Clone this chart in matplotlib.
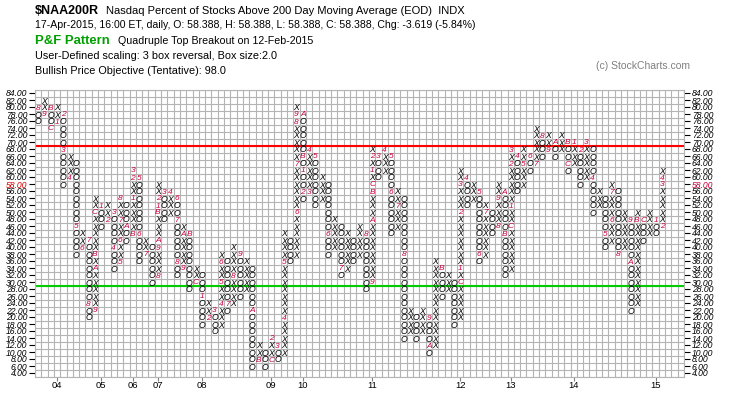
import matplotlib
matplotlib.use("Agg")
import matplotlib.pyplot as plt
from matplotlib.ticker import FixedLocator

plt.rcParams['font.family'] = ['Liberation Sans', 'DejaVu Sans']

# point & figure columns, left to right (box size 2, 3 box reversal)
col_kind = "OX" * 50
col_low = [76, 78, 74, 76, 58, 60, 38, 40, 20, 22,
           46, 48, 34, 36, 42, 44, 36, 38, 30, 32,
           48, 50, 32, 34, 28, 30, 18, 20, 16, 18,
           22, 24, 26, 28, 6, 8, 6, 8, 8, 10,
           36, 38, 54, 56, 52, 54, 38, 40, 32, 34,
           36, 38, 28, 30, 60, 62, 44, 46, 14, 16,
           14, 16, 10, 12, 26, 28, 18, 20, 52, 54,
           36, 38, 44, 46, 32, 34, 56, 58, 62, 64,
           66, 68, 66, 68, 62, 64, 58, 60, 50, 52,
           40, 42, 38, 40, 22, 24, 42, 44, 44, 46]
col_high = [80, 82, 80, 80, 78, 66, 64, 44, 42, 54,
            52, 52, 50, 54, 52, 62, 60, 42, 40, 58,
            56, 56, 54, 46, 44, 34, 32, 24, 22, 38,
            36, 40, 38, 36, 34, 12, 10, 14, 12, 44,
            42, 80, 78, 68, 66, 60, 58, 48, 46, 44,
            42, 46, 44, 68, 66, 68, 66, 56, 54, 22,
            20, 22, 20, 36, 34, 32, 30, 62, 60, 58,
            56, 52, 50, 58, 56, 68, 66, 68, 66, 74,
            72, 72, 70, 72, 70, 70, 68, 70, 68, 56,
            54, 58, 56, 50, 48, 50, 48, 50, 48, 62]

# month markers: column -> {box value: month code}
month_marks = {
    1: {80: '8'}, 2: {78: '9'}, 3: {80: 'B', 74: 'C'}, 4: {76: '1'},
    5: {78: '2', 68: '3'}, 6: {60: '4'}, 7: {46: '5'}, 8: {40: '6'},
    9: {42: '7', 24: '8'}, 10: {22: '9', 34: 'A', 38: 'B', 50: 'C'},
    11: {52: '1'}, 12: {48: '2'}, 13: {50: '3', 40: '4'},
    14: {36: '5', 42: '6', 48: '7', 54: '8'}, 15: {46: 'A'},
    16: {44: 'B', 54: '1', 60: '2', 62: '3'}, 17: {60: '5', 44: '6'},
    18: {38: '7'}, 20: {32: '8', 40: '9', 42: 'A', 50: 'B', 52: '1', 54: '2'},
    21: {56: '3'}, 22: {56: '4'}, 23: {54: '6', 48: '7', 36: '8'},
    24: {34: '9', 44: 'A'}, 25: {44: 'B'}, 26: {30: 'C'}, 27: {26: '1'},
    28: {20: '2'}, 29: {22: '3'}, 30: {24: '4', 30: '5', 36: '6'},
    31: {24: '7'}, 32: {32: '8'}, 33: {38: '9'}, 35: {22: 'A'},
    36: {8: 'B'}, 38: {8: 'C', 14: '2'}, 39: {12: '3'}, 40: {20: '4', 36: '5'},
    42: {50: '6', 64: '7', 76: '8', 78: '9'},
    43: {78: 'A', 66: 'B', 62: '1', 56: '2'}, 44: {56: '3', 68: '4'},
    45: {66: '5'}, 47: {44: '6'}, 49: {34: '7'}, 53: {44: '8'},
    54: {30: '9', 48: 'A', 56: 'B', 58: 'C', 62: '1', 66: '2'},
    55: {66: '3'}, 56: {68: '4'}, 57: {66: '5', 56: '6'}, 58: {52: '7'},
    59: {38: '8'}, 63: {20: '9', 12: 'A'}, 65: {34: 'B'},
    68: {30: 'C', 34: '1', 50: '2', 58: '3'}, 69: {60: '4'},
    71: {56: '5', 38: '6'}, 72: {50: '7'}, 74: {46: '8', 54: '9'},
    75: {56: 'A', 44: 'B'}, 76: {46: 'C', 52: '1', 64: '2', 68: '3'},
    77: {66: '4'}, 78: {64: '5'}, 79: {66: '6'}, 80: {64: '7'},
    81: {72: '8'}, 82: {68: '9'}, 83: {70: 'A'},
    85: {70: 'B', 64: 'C'}, 86: {70: '1'}, 87: {68: '2'}, 88: {70: '3'},
    89: {60: '4'}, 91: {44: '5'}, 92: {48: '6', 56: '7'}, 93: {38: '8'},
    95: {48: '9', 36: 'A'}, 96: {48: 'B'}, 97: {48: 'C'}, 99: {48: '1'},
    100: {46: '2', 58: '3', 60: '4'},
}

year_cols = [4, 11, 16, 20, 27, 38, 43, 54, 68, 76, 86, 99]
year_labels = ['04', '05', '06', '07', '08', '09', '10', '11', '12', '13', '14', '15']

price_ticks = list(range(4, 86, 2))
last_close = 58.388
resistance = 69
support = 29

W, H = 745, 398
fig = plt.figure(figsize=(W / 100, H / 100), dpi=100)
ax = fig.add_axes([35 / W, 1 - 376.5 / H, 649 / W, 287 / H])
ax.set_xlim(0.5, 103.5)
ax.set_ylim(3, 85)

mark_color = '#c8003c'

for i, (kind, lo, hi) in enumerate(zip(col_kind, col_low, col_high), start=1):
    marks = month_marks.get(i, {})
    for v in range(lo, hi + 1, 2):
        if v in marks:
            ax.text(i, v, marks[v], color=mark_color, fontsize=6.0, style='italic',
                    ha='center', va='center_baseline')
        else:
            ax.text(i, v, kind, color='black', fontsize=6.2, style='italic',
                    ha='center', va='center_baseline')

ax.axhline(resistance, color='#ff0000', lw=1.5)
ax.axhline(support, color='#00cc00', lw=1.5)

# grid on box edges
ax.xaxis.set_minor_locator(FixedLocator([k + 0.5 for k in range(0, 104)]))
ax.yaxis.set_minor_locator(FixedLocator(list(range(3, 86, 2))))
ax.grid(which='minor', color='#b4b4b4', lw=0.8)
ax.set_axisbelow(True)
for s in ax.spines.values():
    s.set_color('#b4b4b4')
    s.set_linewidth(0.8)

ax.set_yticks(price_ticks)
left_labels = [f"{v:.2f}" for v in price_ticks]
ax.set_yticklabels(left_labels, fontsize=6.2, style='italic')
ax.tick_params(axis='y', which='major', direction='out', length=4, width=0.8,
               pad=1.5, labelright=True, right=True, left=True)
ax.tick_params(axis='y', which='minor', length=0)
ax.tick_params(axis='x', which='minor', length=0)

ax.set_xticks(year_cols)
ax.set_xticklabels(year_labels, fontsize=6.8)
ax.tick_params(axis='x', which='major', direction='out', length=3, width=0.8,
               color='#808080', pad=0.5)

# current value in red on both sides
idx = price_ticks.index(58)
for t, tick in enumerate(ax.yaxis.get_major_ticks()):
    if t == idx:
        tick.label2.set_text(f"<<{last_close:.2f}")
        tick.label2.set_color(mark_color)
        tick.label1.set_color('#e00000')


def ftext(x, y, s, **kw):
    fig.text(x / W, 1 - y / H, s, va='center', **kw)


ftext(35, 11, "$NAA200R", fontsize=9, fontweight='bold')
ftext(106, 11, "Nasdaq Percent of Stocks Above 200 Day Moving Average (EOD)  INDX", fontsize=8)
ftext(35, 25, "17-Apr-2015, 16:00 ET, daily, O: 58.388, H: 58.388, L: 58.388, C: 58.388, Chg: -3.619 (-5.84%)",
      fontsize=7.6)
ftext(35, 41, "P&F Pattern", fontsize=9.4, fontweight='bold', color='#00a000')
ftext(118, 41, "Quadruple Top Breakout on 12-Feb-2015", fontsize=7.7)
ftext(35, 56, "User-Defined scaling: 3 box reversal, Box size:2.0", fontsize=7.8)
ftext(35, 71, "Bullish Price Objective (Tentative): 98.0", fontsize=7.8)
ftext(596, 66, "(c) StockCharts.com", fontsize=7.5, color='#808080')

fig.savefig("out.png", dpi=100)
